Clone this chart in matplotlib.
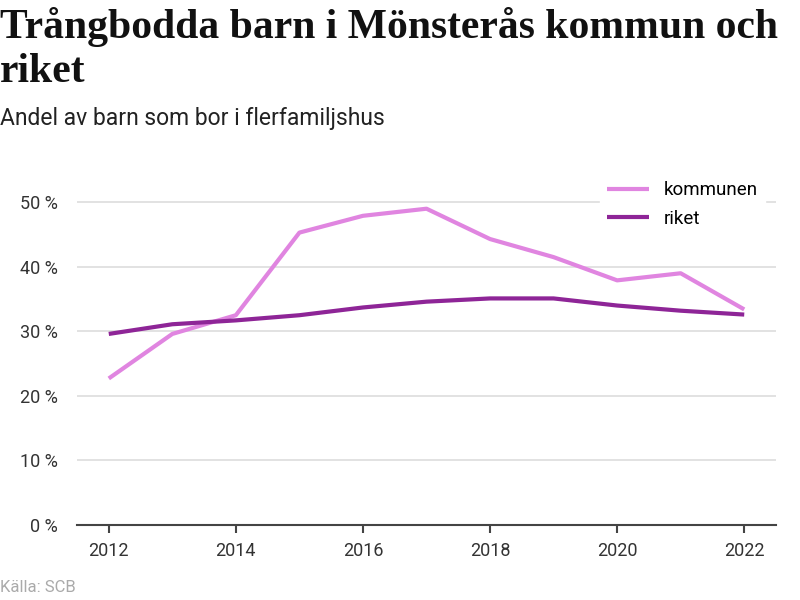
import matplotlib
matplotlib.use("Agg")
import matplotlib.pyplot as plt
from matplotlib.ticker import FuncFormatter

years = [2012, 2013, 2014, 2015, 2016, 2017, 2018, 2019, 2020, 2021, 2022]
kommunen = [22.7, 29.6, 32.5, 45.3, 47.9, 49.0, 44.3, 41.5, 37.9, 39.0, 33.4]
riket = [29.6, 31.1, 31.7, 32.5, 33.7, 34.6, 35.1, 35.1, 34.0, 33.2, 32.6]
series_names = ["kommunen", "riket"]
yticks = [0, 10, 20, 30, 40, 50]
xticks = [2012, 2014, 2016, 2018, 2020, 2022]

title = "Trångbodda barn i Mönsterås kommun och\nriket"
subtitle = "Andel av barn som bor i flerfamiljshus"
source = "Källa: SCB"

plt.rcParams['font.family'] = ['Roboto', 'DejaVu Sans']

fig = plt.figure(figsize=(8, 6), dpi=100)
ax = fig.add_axes([0.09625, 0.125, 0.97 - 0.09625, 0.7167 - 0.125])

ax.plot(years, kommunen, color="#e085e0", lw=3, label=series_names[0], solid_capstyle="butt")
ax.plot(years, riket, color="#8e2597", lw=3, label=series_names[1], solid_capstyle="butt")

ax.set_xlim(2011.5, 2022.5)
ax.set_ylim(0, 55)
ax.set_yticks(yticks)
ax.set_xticks(xticks)
ax.yaxis.set_major_formatter(FuncFormatter(lambda v, p: f"{int(v)} %"))
ax.grid(axis="y", color="#dddddd", lw=1.2)
ax.set_axisbelow(True)
for s in ["top", "right", "left"]:
    ax.spines[s].set_visible(False)
ax.spines["bottom"].set_color("#444444")
ax.spines["bottom"].set_linewidth(1.5)
ax.tick_params(axis="y", length=0, pad=14, labelsize=13, labelcolor="#333333")
ax.tick_params(axis="x", length=6, width=1.5, color="#444444", pad=6, labelsize=13, labelcolor="#333333")

leg = ax.legend(loc="upper right", bbox_to_anchor=(0.99, 1.0), frameon=True, fontsize=13.5,
                handlelength=2.2, handletextpad=0.8, labelspacing=0.55, borderaxespad=0.2)
leg.get_frame().set_facecolor("white")
leg.get_frame().set_edgecolor("white")
leg.get_frame().set_alpha(1)

fig.text(0.0, 0.988, title, fontsize=30, fontweight="bold", family=["Liberation Serif"],
         va="top", ha="left", color="#111111", linespacing=1.2)
fig.text(0.0, 0.803, subtitle, fontsize=16.5, va="center", ha="left", color="#222222")
fig.text(0.0, 0.02, source, fontsize=12, va="center", ha="left", color="#aaaaaa")

fig.savefig("out.png", dpi=100)
